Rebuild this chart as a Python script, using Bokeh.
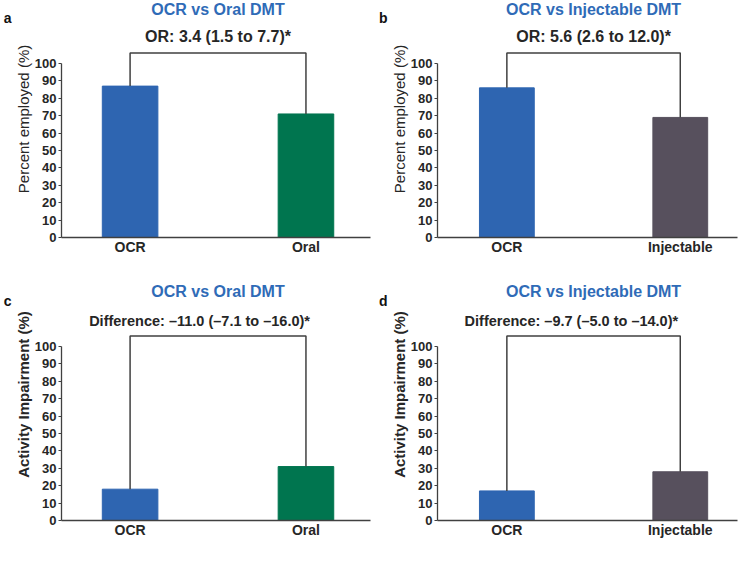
from bokeh.plotting import figure
from bokeh.layouts import gridplot
from bokeh.models import Label, Range1d, FixedTicker, LinearAxis
from bokeh.embed import file_html
from bokeh.resources import INLINE

# ---- data ----
categories_oral = ["OCR", "Oral"]
categories_inj = ["OCR", "Injectable"]
employed_oral = [87, 71]
employed_inj = [86, 69]
impair_oral = [18, 31]
impair_inj = [17, 28]
title_oral = "OCR vs Oral DMT"
title_inj = "OCR vs Injectable DMT"
stat_a = "OR: 3.4 (1.5 to 7.7)*"
stat_b = "OR: 5.6 (2.6 to 12.0)*"
stat_c = "Difference: \u201311.0 (\u20137.1 to \u201316.0)*"
stat_d = "Difference: \u20139.7 (\u20135.0 to \u201314.0)*"
ylabel_top = "Percent employed (%)"
ylabel_bottom = "Activity Impairment (%)"
y_ticks = list(range(0, 101, 10))
bracket_y = 106

BLUE = "#2e65b1"
GREEN = "#00754f"
INJ = "#57505d"
TITLE_BLUE = "#2f6bb7"
TXT = "#262626"
AXIS = "#404040"
FONT = "Liberation Sans"


def panel(letter, letter_y, title, title_y, stat, stat_x, stat_size, stat_y,
          cats, vals, colors, ylabel, ylabel_style, width, height,
          x_start, x_end, y_top, mb_left, mb_right, mb_bottom):
    p = figure(width=width, height=height, output_backend="svg",
               toolbar_location=None, x_range=Range1d(x_start, x_end),
               y_range=Range1d(0, y_top), min_border_left=mb_left,
               min_border_right=mb_right, min_border_bottom=mb_bottom,
               min_border_top=0)
    p.outline_line_color = None
    p.xgrid.visible = False
    p.ygrid.visible = False

    xs = [1, 2]
    p.vbar(x=xs, top=vals, width=0.316, fill_color=colors, line_color=colors)
    p.line(x=[xs[0], xs[0], xs[1], xs[1]],
           y=[vals[0], bracket_y, bracket_y, vals[1]],
           line_color=AXIS, line_width=1.5)

    ya = p.yaxis[0]
    ya.ticker = FixedTicker(ticks=y_ticks)
    ya.bounds = (0, 100)
    ya.axis_line_color = AXIS
    ya.axis_line_width = 1.3
    ya.major_tick_line_color = AXIS
    ya.major_tick_out = 3
    ya.major_tick_in = 0
    ya.minor_tick_line_color = None
    ya.major_label_standoff = 2
    ya.major_label_text_font = FONT
    ya.major_label_text_font_style = "bold"
    ya.major_label_text_font_size = "13px"
    ya.major_label_text_color = TXT
    ya.axis_label = ylabel
    ya.axis_label_text_font = FONT
    ya.axis_label_text_font_style = ylabel_style
    ya.axis_label_text_font_size = "15px"
    ya.axis_label_text_color = TXT
    ya.axis_label_standoff = 0

    # panel letter, drawn as the single label of an extra, line-less axis
    p.extra_y_ranges = {"letter": Range1d(0, y_top)}
    la = LinearAxis(y_range_name="letter", ticker=FixedTicker(ticks=[letter_y]),
                    major_label_overrides={letter_y: letter},
                    axis_line_color=None, major_tick_line_color=None,
                    minor_tick_line_color=None, major_tick_in=0,
                    major_tick_out=0, major_label_standoff=0,
                    major_label_text_font=FONT,
                    major_label_text_font_style="bold",
                    major_label_text_font_size="14px",
                    major_label_text_color="#111111")
    p.add_layout(la, "left")

    xa = p.xaxis[0]
    xa.ticker = FixedTicker(ticks=xs)
    xa.major_label_overrides = {xs[0]: cats[0], xs[1]: cats[1]}
    xa.axis_line_color = AXIS
    xa.axis_line_width = 1.3
    xa.major_tick_line_color = None
    xa.minor_tick_line_color = None
    xa.major_tick_in = 0
    xa.major_tick_out = 0
    xa.major_label_standoff = 1
    xa.major_label_text_font = FONT
    xa.major_label_text_font_style = "bold"
    xa.major_label_text_font_size = "14px"
    xa.major_label_text_color = TXT

    p.add_layout(Label(x=1.5, y=title_y, text=title, text_align="center",
                       text_baseline="middle", text_font=FONT,
                       text_font_style="bold", text_font_size="16px",
                       text_color=TITLE_BLUE))
    p.add_layout(Label(x=stat_x, y=stat_y, text=stat, text_align="center",
                       text_baseline="middle", text_font=FONT,
                       text_font_style="bold", text_font_size=stat_size,
                       text_color=TXT))
    return p


pa = panel("a", 126, title_oral, 131.0, stat_a, 1.5, "16px", 115.5,
           categories_oral, employed_oral, [BLUE, GREEN], ylabel_top, "normal",
           374, 268, 0.610, 2.367, 136.2, 59, 4, 31)
pb = panel("b", 126, title_inj, 131.0, stat_b, 1.5, "16px", 115.5,
           categories_inj, employed_inj, [BLUE, INJ], ylabel_top, "normal",
           365, 268, 0.600, 2.330, 136.2, 63, 2, 31)
pc = panel("c", 126, title_oral, 131.6, stat_c, 1.395, "14.5px", 114.9,
           categories_oral, impair_oral, [BLUE, GREEN], ylabel_bottom, "bold",
           374, 279, 0.610, 2.367, 144.8, 59, 4, 27)
pd_ = panel("d", 126, title_inj, 131.6, stat_d, 1.372, "14.5px", 114.9,
            categories_inj, impair_inj, [BLUE, INJ], ylabel_bottom, "bold",
            365, 279, 0.600, 2.330, 144.8, 63, 2, 27)

grid = gridplot([[pa, pb], [pc, pd_]], toolbar_location=None)

open("out.html", "w").write(file_html(grid, INLINE))
